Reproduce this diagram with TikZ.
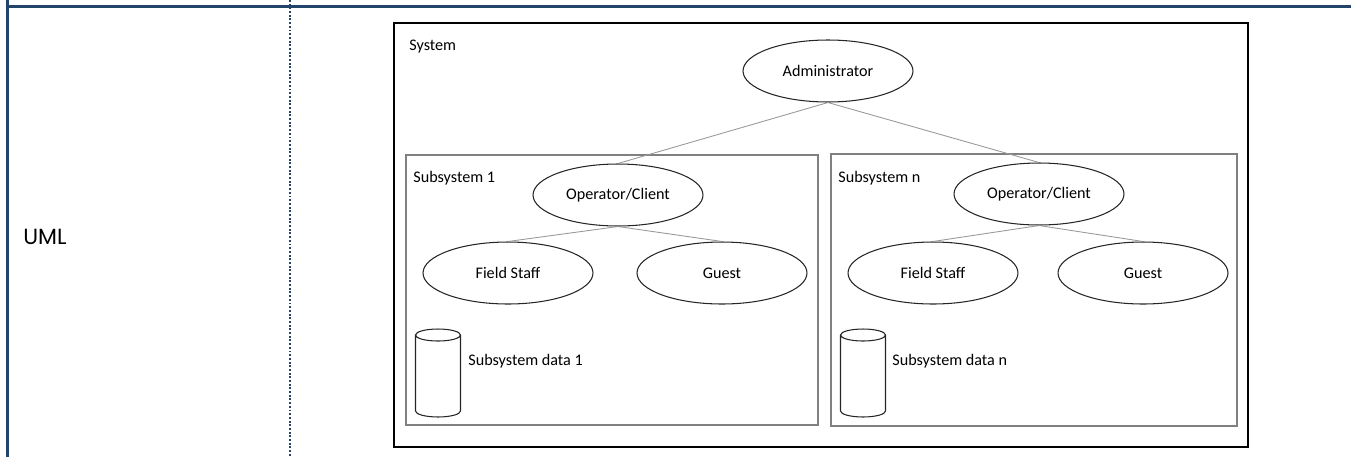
\documentclass[tikz,border=0pt]{standalone}
\usepackage{fontspec}
\setmainfont{Carlito}
\newfontfamily\headfont{Poppins}
\usetikzlibrary{shapes.geometric}
\definecolor{rulecol}{RGB}{36,69,107}
% outline of a data drum round a named node
\newcommand{\drum}[1]{%
  \draw[black!85,line width=.6pt]
    ([yshift=-.12cm]#1.north west) -- ([yshift=.12cm]#1.south west)
    arc[start angle=180,end angle=360,x radius=.45cm,y radius=.12cm]
    -- ([yshift=-.12cm]#1.north east)
    arc[start angle=0,end angle=360,x radius=.45cm,y radius=.12cm];}

\begin{document}
\begin{tikzpicture}
            [x=0.02cm,y=-0.02cm,every node/.style={font=\fontsize{9.2}{11}\selectfont},
             actor/.style={ellipse,draw=black!85,line width=.6pt,minimum width=3.4cm,minimum height=1.24cm,inner sep=0pt},
             store/.style={rectangle,minimum width=.9cm,minimum height=1.76cm,inner sep=0pt,outer sep=0pt},
             link/.style={draw=black!40,line width=.5pt},
             tag/.style={anchor=base west,inner sep=0pt}]
            \useasboundingbox (0,0) rectangle (1351,457);
            % table rules
            \draw[rulecol,line width=1.7pt] (6,6.5) -- (1351,6.5);
            \draw[rulecol,line width=1.7pt] (7.5,0) -- (7.5,457);
            \draw[rulecol,line width=1.2pt,dash pattern=on 1.1pt off 1pt] (290,0) -- (290,457);
            \node[tag,font=\headfont\fontsize{12.5}{15}\selectfont] (uml) at (23,244) {UML};
            % frames
            \draw[black,line width=.6pt] (394,23) rectangle (1248,447);
            \draw[black!50,line width=.8pt] (406,155) rectangle (818,425);
            \draw[black!50,line width=.8pt] (831,154) rectangle (1237,426);
            \node[tag] (sys) at (409,50) {System};
            \node[tag] (sub1) at (413,182) {Subsystem 1};
            \node[tag] (subn) at (838,182) {Subsystem n};
            % actors
            \node[actor] (admin) at (828,71) {Administrator};
            \node[actor] (op1) at (618,195) {Operator/Client};
            \node[actor] (staff1) at (508,273) {Field Staff};
            \node[actor] (guest1) at (722,273) {Guest};
            \node[actor] (opn) at (1039,194) {Operator/Client};
            \node[actor] (staffn) at (933,273) {Field Staff};
            \node[actor] (guestn) at (1143,273) {Guest};
            % data stores
            \node[store] (data1) at (438,373) {};
            \node[store] (datan) at (863,373) {};
            \drum{data1}
            \drum{datan}
            \node[tag] (data1txt) at (468,365) {Subsystem data 1};
            \node[tag] (datantxt) at (892,365) {Subsystem data n};
            % links
            \draw[link] (admin.south) -- (op1.north);
            \draw[link] (admin.south) -- (opn.north);
            \draw[link] (op1.south) -- (staff1.north);
            \draw[link] (op1.south) -- (guest1.north);
            \draw[link] (opn.south) -- (staffn.north);
            \draw[link] (opn.south) -- (guestn.north);
        \end{tikzpicture}
\end{document}
